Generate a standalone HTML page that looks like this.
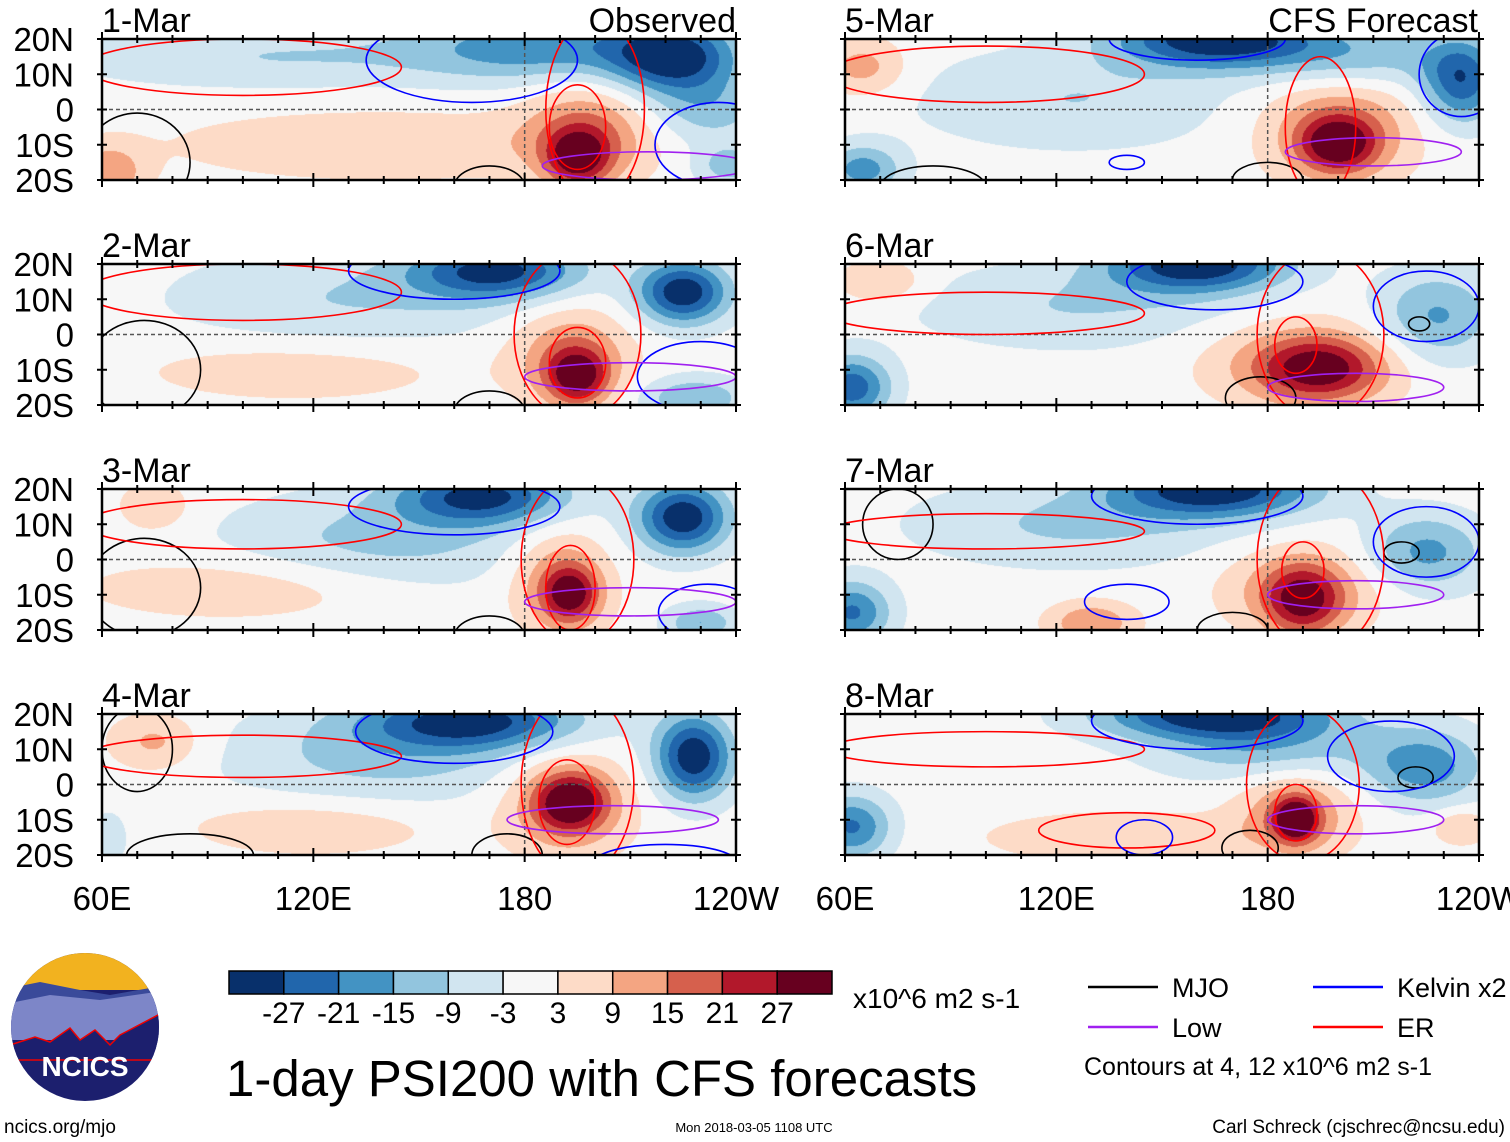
<!DOCTYPE html>
<html><head><meta charset="utf-8">
<style>
body{margin:0;background:#fff;width:1510px;height:1142px;overflow:hidden;position:relative;font-family:"Liberation Sans",sans-serif;}
canvas{position:absolute;}
svg{position:absolute;left:0;top:0;}
</style></head><body>
<svg id="ov" width="1510" height="1142"></svg>
<script>
// panel field blobs: [lon, lat, sigmaLon, sigmaLat, amplitude]
const panelTitles=["1-Mar","2-Mar","3-Mar","4-Mar","5-Mar","6-Mar","7-Mar","8-Mar"];
const blobs1=[[222,15,18,10,-30],[185,18,35,10,-18],[110,15,60,9,-9],[232,0,18,10,-12],[195,-14,9,8,24],[198,-6,18,14,15],[140,-10,60,10,8],[62,-18,10,8,14],[238,-16,10,6,-12]];
const blobs2=[[225,12,13,9,-32],[172,18,24,8,-28],[130,10,50,14,-9],[195,-12,9,8,25],[193,-5,17,14,14],[115,-10,45,9,7],[228,-18,15,6,-15]];
const blobs3=[[225,12,13,10,-32],[168,18,24,8,-28],[140,5,45,14,-11],[193,-10,8,8,24],[190,-5,14,15,14],[100,-8,45,9,8],[75,15,10,7,9],[230,-18,10,5,-15]];
const blobs4=[[228,8,11,12,-32],[165,18,30,8,-28],[140,8,45,14,-11],[193,-5,10,8,25],[192,-5,18,15,15],[120,-12,35,8,8],[75,12,13,8,11],[62,-15,6,8,-7]];
const blobs5=[[165,20,28,8,-32],[235,8,11,12,-25],[205,15,30,9,-13],[125,3,45,14,-9],[200,-10,11,8,25],[200,-5,22,15,15],[65,12,12,8,12],[65,-17,11,7,-18]];
const blobs6=[[160,20,25,8,-32],[228,5,17,13,-16],[125,8,45,12,-9],[195,-10,17,9,22],[190,-8,27,12,13],[62,-15,11,9,-25],[70,15,12,6,10]];
const blobs7=[[165,20,28,8,-32],[225,2,17,11,-17],[125,10,45,12,-10],[190,-12,11,10,22],[190,-8,22,12,13],[62,-15,11,9,-22],[130,-18,12,6,15]];
const blobs8=[[165,20,32,7,-32],[225,5,17,11,-18],[180,10,32,9,-13],[188,-10,6,6,28],[188,-8,16,12,15],[62,-12,11,9,-22],[140,-15,38,7,9],[235,-12,8,5,10]];
const allBlobs=[blobs1,blobs2,blobs3,blobs4,blobs5,blobs6,blobs7,blobs8];
// contours: [type, lon, lat, rLon, rLat]
const cont1=[["mjo",70,-15,15,14],["mjo",170,-22,10,6],["er",195,-5,8,12],["er",200,0,14,26],["er",100,12,45,8],["kel",165,14,30,12],["kel",235,-10,18,12],["low",215,-16,30,4]];
const cont2=[["mjo",72,-10,16,14],["mjo",170,-22,10,6],["er",195,-8,8,10],["er",195,0,18,24],["er",100,12,45,8],["kel",160,18,30,8],["kel",230,-12,18,10],["low",210,-12,30,4]];
const cont3=[["mjo",72,-8,16,14],["mjo",170,-22,10,6],["er",193,-8,7,12],["er",195,0,16,24],["er",100,10,45,7],["kel",160,15,30,8],["kel",232,-15,14,8],["low",210,-12,30,4]];
const cont4=[["mjo",70,10,10,12],["mjo",85,-20,18,6],["mjo",175,-20,10,6],["er",192,-5,8,12],["er",195,0,16,26],["er",100,8,45,6],["kel",160,15,28,9],["kel",220,-22,20,5],["low",205,-10,30,4]];
const cont5=[["mjo",85,-22,15,6],["mjo",180,-20,10,5],["er",195,-5,10,20],["er",100,10,45,8],["kel",160,20,25,6],["kel",235,10,12,12],["kel",140,-15,5,2],["low",210,-12,25,4]];
const cont6=[["mjo",178,-18,10,6],["mjo",223,3,3,2],["er",188,-3,6,8],["er",195,0,18,24],["er",100,6,45,6],["kel",165,15,25,8],["kel",225,8,15,10],["low",205,-15,25,4]];
const cont7=[["mjo",75,10,10,10],["mjo",170,-20,10,5],["mjo",218,2,5,3],["er",190,-3,6,8],["er",195,0,18,26],["er",100,8,45,5],["kel",160,18,30,8],["kel",225,5,15,10],["kel",140,-12,12,5],["low",205,-10,25,4]];
const cont8=[["mjo",175,-18,8,5],["mjo",222,2,5,3],["er",188,-8,6,8],["er",190,0,16,22],["er",100,10,45,5],["er",140,-13,25,5],["kel",160,18,30,8],["kel",215,8,18,10],["kel",145,-15,8,5],["low",205,-10,25,4]];
const allCont=[cont1,cont2,cont3,cont4,cont5,cont6,cont7,cont8];
const levels=[-27,-21,-15,-9,-3,3,9,15,21,27];
const colors=["#08306b","#2166ac","#4393c3","#92c5de","#d1e5f0","#f7f7f7","#fddbc7","#f4a582","#d6604d","#b2182b","#67001f"];
const latLabels=["20N","10N","0","10S","20S"];
const lonLabels=["60E","120E","180","120W"];
const cbLabels=["-27","-21","-15","-9","-3","3","9","15","21","27"];
</script>
<script>
const NS="http://www.w3.org/2000/svg";
const ov=document.getElementById('ov');
const W=634,H=141;
const px0=[102,845], py0=[39,264,489,714];
function xs(lon,c){return px0[c]+(lon-60)/180*W;}
function ys(lat,r){return py0[r]+(20-lat)/40*H;}
function hex(h){return [parseInt(h.substr(1,2),16),parseInt(h.substr(3,2),16),parseInt(h.substr(5,2),16)];}
const rgb=colors.map(hex);
function mk(tag,attrs,parent){const e=document.createElementNS(NS,tag);for(const k in attrs)e.setAttribute(k,attrs[k]);(parent||ov).appendChild(e);return e;}
function txt(s,x,y,size,anchor){const e=mk('text',{x:x,y:y,'font-size':size,'text-anchor':anchor||'start','font-family':'Liberation Sans, sans-serif'});e.textContent=s;return e;}
const ccol={mjo:"#000",low:"#a020f0",kel:"#0000ff",er:"#ff0000"};
for(let p=0;p<8;p++){
  const c=p<4?0:1,r=p%4;
  const cv=document.createElement('canvas');
  cv.width=W;cv.height=H;cv.style.left=px0[c]+'px';cv.style.top=py0[r]+'px';
  
  
  document.body.insertBefore(cv,ov);
  const ctx=cv.getContext('2d');const img=ctx.createImageData(W,H);
  const b=allBlobs[p];
  for(let y=0;y<H;y++)for(let x=0;x<W;x++){
    const lon=60+(x+0.5)/W*180,lat=20-(y+0.5)/H*40;let v=0;
    for(const q of b){const dx=(lon-q[0])/q[2],dy=(lat-q[1])/q[3];v+=q[4]*Math.exp(-dx*dx-dy*dy);}
    let k=0;while(k<levels.length&&v>levels[k])k++;
    const col=rgb[k];const i=(y*W+x)*4;
    img.data[i]=col[0];img.data[i+1]=col[1];img.data[i+2]=col[2];img.data[i+3]=255;
  }
  ctx.putImageData(img,0,0);
  const g=mk('g',{});
  
  
  const cp=mk('clipPath',{id:'cp'+p},g);mk('rect',{x:px0[c],y:py0[r],width:W,height:H},cp);
  const cg=mk('g',{'clip-path':'url(#cp'+p+')'},g);
  mk('line',{x1:px0[c],x2:px0[c]+W,y1:ys(0,r),y2:ys(0,r),stroke:'#555','stroke-dasharray':'4,3','stroke-width':1.5},cg);
  mk('line',{x1:xs(180,c),x2:xs(180,c),y1:py0[r],y2:py0[r]+H,stroke:'#555','stroke-dasharray':'4,3','stroke-width':1.5},cg);
  for(const q of allCont[p]){
    const e=mk('ellipse',{cx:xs(q[1],c),cy:ys(q[2],r),rx:q[3]/180*W,ry:q[4]/40*H,fill:'none',stroke:ccol[q[0]],'stroke-width':1.6},cg);
    
    
  }
  mk('rect',{x:px0[c],y:py0[r],width:W,height:H,fill:'none',stroke:'#000','stroke-width':2.5},g);
  for(let lon=60;lon<=240;lon+=10){const X=xs(lon,c);const L=(lon%60==0)?7:4;
    mk('line',{x1:X,x2:X,y1:py0[r]-L,y2:py0[r]+L,stroke:'#000','stroke-width':2},g);
    mk('line',{x1:X,x2:X,y1:py0[r]+H-L,y2:py0[r]+H+L,stroke:'#000','stroke-width':2},g);}
  for(let lat=-20;lat<=20;lat+=10){const Y=ys(lat,r);
    mk('line',{x1:px0[c]-5,x2:px0[c]+5,y1:Y,y2:Y,stroke:'#000','stroke-width':2},g);
    mk('line',{x1:px0[c]+W-5,x2:px0[c]+W+5,y1:Y,y2:Y,stroke:'#000','stroke-width':2},g);}
  const tt=txt(panelTitles[p],px0[c],py0[r]-7,34);
  
  
  if(c==0){for(let i=0;i<5;i++){const e=txt(latLabels[i],74,py0[r]+i*H/4+12,33,'end');
    
    }}
}
let e=txt("Observed",736,32,34,'end');
e=txt("CFS Forecast",1478,32,34,'end');
for(let c=0;c<2;c++)for(let i=0;i<4;i++){const t=txt(lonLabels[i],px0[c]+i*W/3,910,33,'middle');
  
  }
const cbw=603/11;
for(let i=0;i<11;i++){const rr=mk('rect',{x:229+i*cbw,y:971,width:cbw,height:23,fill:colors[i],stroke:'#000','stroke-width':1.5});
  
  }
for(let i=0;i<10;i++){const t=txt(cbLabels[i],229+(i+1)*cbw,1023,30,'middle');
  
  }
e=txt("x10^6 m2 s-1",853,1008,28);
e=txt("1-day PSI200 with CFS forecasts",226,1096,51);
const leg=[["MJO","mjo",1088,987],["Kelvin x2","kel",1313,987],["Low","low",1088,1027],["ER","er",1313,1027]];
for(const l of leg){const ln=mk('line',{x1:l[2],x2:l[2]+70,y1:l[3],y2:l[3],stroke:ccol[l[1]],'stroke-width':2.5});
  
  const t=txt(l[0],l[2]+84,l[3]+10,27);}
e=txt("Contours at 4, 12 x10^6 m2 s-1",1084,1075,25);
e=txt("ncics.org/mjo",4,1133,19);
e=txt("Mon 2018-03-05 1108 UTC",754,1132,13,'middle');
e=txt("Carl Schreck (cjschrec@ncsu.edu)",1505,1133,19,'end');
const lg=mk('g',{});
const lc=mk('clipPath',{id:'lc'},lg);mk('circle',{cx:85,cy:1027,r:74},lc);
const lgg=mk('g',{'clip-path':'url(#lc)'},lg);
mk('rect',{x:0,y:950,width:170,height:160,fill:'#1c1f6e'},lgg);
mk('rect',{x:0,y:950,width:170,height:40,fill:'#f2b21f'},lgg);
mk('path',{d:'M0 990 L40 982 L80 990 L110 995 L150 988 L170 985 L170 1010 L0 1010Z',fill:'#3a4a9a'},lgg);
mk('path',{d:'M0 1005 L50 995 L100 1000 L170 990 L170 1040 L0 1040Z',fill:'#7d86c8'},lgg);
mk('path',{d:'M10 1045 L35 1037 L50 1042 L70 1028 L80 1040 L95 1030 L110 1045 L120 1035 L158 1015 L170 1012 L170 1060 L0 1060Z',fill:'#1c1f6e',stroke:'#e00','stroke-width':1.5},lgg);
e=txt("NCICS",85,1076,28,'middle');e.setAttribute('fill','#fff');e.setAttribute('font-weight','bold');
</script>
</body></html>
